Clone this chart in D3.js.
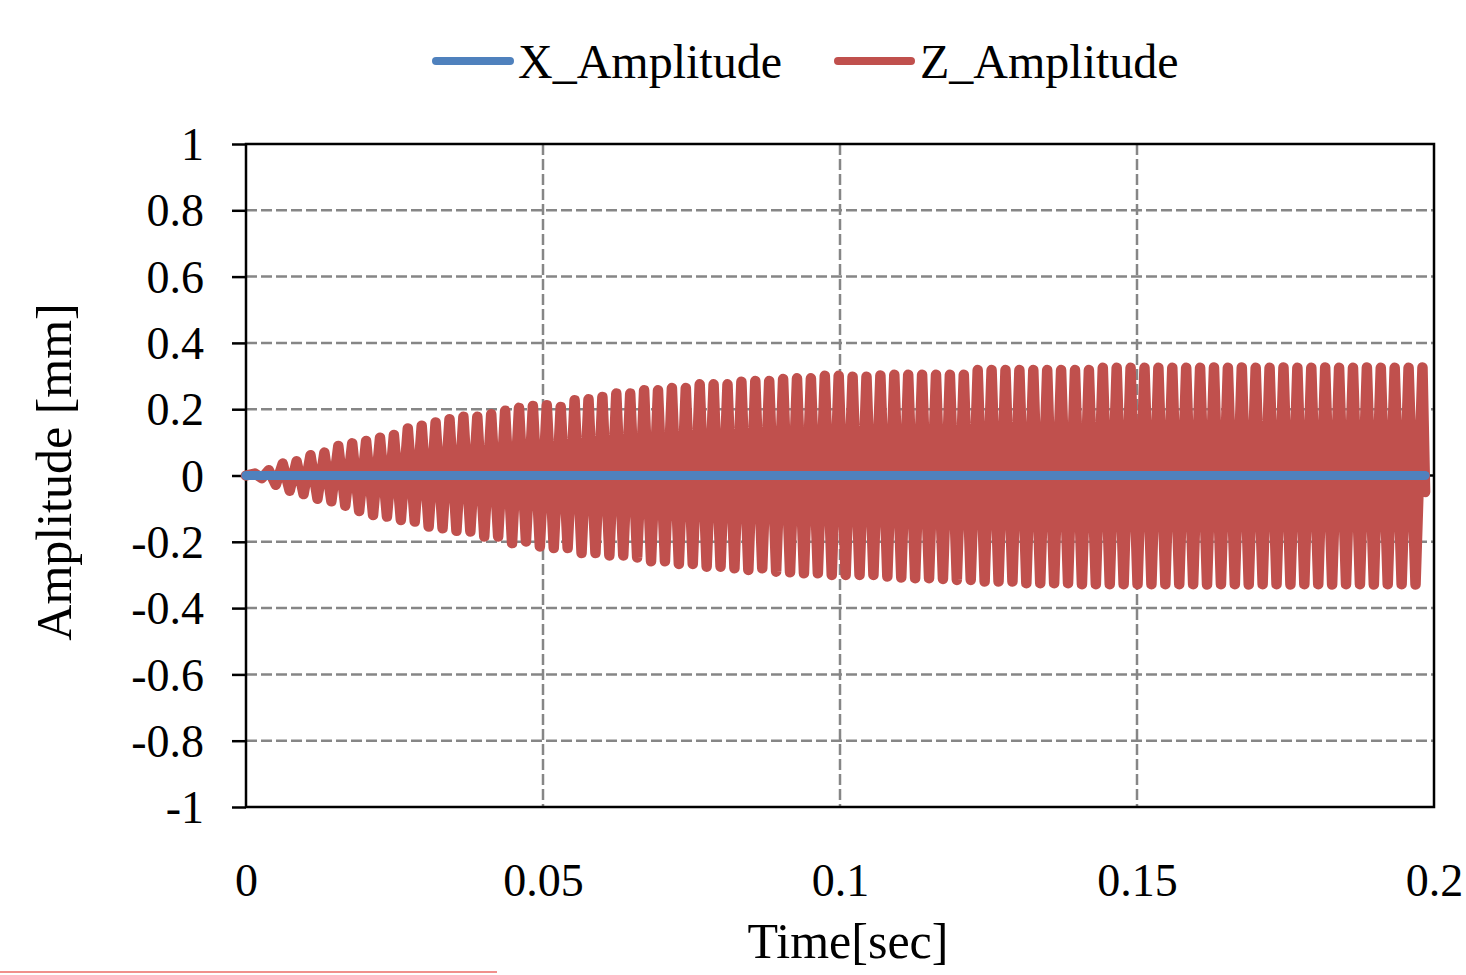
<!DOCTYPE html>
<html>
<head>
<meta charset="utf-8">
<script src="https://cdn.jsdelivr.net/npm/d3@7"></script>
<style>
  body { margin: 0; background: #fff; }
  svg { display: block; font-family: "Liberation Serif", "Times New Roman", serif; }
</style>
</head>
<body>
<svg id="chart" width="1466" height="975"></svg>
<script>
/*******************************************************************************************/
// Data

var seriesNames = ['X_Amplitude', 'Z_Amplitude'];
var seriesColors = ['#4F81BD', '#C0504D'];

var xTicks = [0, 0.05, 0.1, 0.15, 0.2];
var yTicks = [-1, -0.8, -0.6, -0.4, -0.2, 0, 0.2, 0.4, 0.6, 0.8, 1];

// X amplitude stays at zero over the whole run
var xTime  = [0, 0.05, 0.1, 0.15, 0.1985];
var xValue = [0, 0, 0, 0, 0];

// Z amplitude: time and value of every crest and every trough
var zPeakTime = [0.0015, 0.00384, 0.00618, 0.00852, 0.01086, 0.0132, 0.01554, 0.01788, 0.02022, 0.02256,
  0.0249, 0.02724, 0.02958, 0.03192, 0.03426, 0.0366, 0.03894, 0.04128, 0.04362, 0.04596,
  0.0483, 0.05064, 0.05298, 0.05532, 0.05766, 0.06, 0.06234, 0.06468, 0.06702, 0.06936,
  0.0717, 0.07404, 0.07638, 0.07872, 0.08106, 0.0834, 0.08574, 0.08808, 0.09042, 0.09276,
  0.0951, 0.09744, 0.09978, 0.10212, 0.10446, 0.1068, 0.10914, 0.11148, 0.11382, 0.11616,
  0.1185, 0.12084, 0.12318, 0.12552, 0.12786, 0.1302, 0.13254, 0.13488, 0.13722, 0.13956,
  0.1419, 0.14424, 0.14658, 0.14892, 0.15126, 0.1536, 0.15594, 0.15828, 0.16062, 0.16296,
  0.1653, 0.16764, 0.16998, 0.17232, 0.17466, 0.177, 0.17934, 0.18168, 0.18402, 0.18636,
  0.1887, 0.19104, 0.19338, 0.19572, 0.19806];
var zPeak = [0.006, 0.016, 0.036, 0.043, 0.061, 0.069, 0.089, 0.097, 0.104, 0.114,
  0.122, 0.142, 0.150, 0.160, 0.170, 0.177, 0.177, 0.185, 0.195, 0.204,
  0.210, 0.212, 0.207, 0.227, 0.230, 0.237, 0.247, 0.247, 0.257, 0.257,
  0.264, 0.264, 0.275, 0.275, 0.275, 0.283, 0.285, 0.285, 0.291, 0.293,
  0.293, 0.301, 0.301, 0.298, 0.298, 0.302, 0.304, 0.304, 0.304, 0.304,
  0.304, 0.304, 0.318, 0.318, 0.318, 0.318, 0.318, 0.318, 0.318, 0.318,
  0.318, 0.325, 0.325, 0.325, 0.325, 0.325, 0.325, 0.325, 0.325, 0.326,
  0.325, 0.326, 0.325, 0.325, 0.326, 0.325, 0.325, 0.326, 0.325, 0.325,
  0.326, 0.325, 0.325, 0.325, 0.326];
var zTroughTime = [0.00267, 0.00501, 0.00735, 0.00969, 0.01203, 0.01437, 0.01671, 0.01905, 0.02139, 0.02373,
  0.02607, 0.02841, 0.03075, 0.03309, 0.03543, 0.03777, 0.04011, 0.04245, 0.04479, 0.04713,
  0.04947, 0.05181, 0.05415, 0.05649, 0.05883, 0.06117, 0.06351, 0.06585, 0.06819, 0.07053,
  0.07287, 0.07521, 0.07755, 0.07989, 0.08223, 0.08457, 0.08691, 0.08925, 0.09159, 0.09393,
  0.09627, 0.09861, 0.10095, 0.10329, 0.10563, 0.10797, 0.11031, 0.11265, 0.11499, 0.11733,
  0.11967, 0.12201, 0.12435, 0.12669, 0.12903, 0.13137, 0.13371, 0.13605, 0.13839, 0.14073,
  0.14307, 0.14541, 0.14775, 0.15009, 0.15243, 0.15477, 0.15711, 0.15945, 0.16179, 0.16413,
  0.16647, 0.16881, 0.17115, 0.17349, 0.17583, 0.17817, 0.18051, 0.18285, 0.18519, 0.18753,
  0.18987, 0.19221, 0.19455, 0.19689, 0.1985];
var zTrough = [-0.008, -0.028, -0.046, -0.056, -0.070, -0.078, -0.091, -0.107, -0.119, -0.124,
  -0.134, -0.139, -0.154, -0.159, -0.167, -0.169, -0.184, -0.184, -0.204, -0.199,
  -0.214, -0.219, -0.219, -0.234, -0.234, -0.241, -0.241, -0.247, -0.259, -0.259,
  -0.267, -0.267, -0.275, -0.275, -0.280, -0.285, -0.280, -0.290, -0.292, -0.295,
  -0.295, -0.300, -0.300, -0.300, -0.300, -0.305, -0.308, -0.310, -0.310, -0.312,
  -0.315, -0.315, -0.320, -0.320, -0.320, -0.325, -0.325, -0.325, -0.325, -0.328,
  -0.328, -0.328, -0.328, -0.328, -0.328, -0.328, -0.328, -0.328, -0.329, -0.328,
  -0.328, -0.329, -0.328, -0.328, -0.329, -0.328, -0.328, -0.329, -0.328, -0.328,
  -0.329, -0.328, -0.328, -0.329, -0.05];

/*******************************************************************************************/
// Layout

var svg = d3.select('#chart');
var plot = { left: 246, right: 1434, top: 144, bottom: 807 };
var serif = '"Liberation Serif", "Times New Roman", serif';

var xScale = d3.scaleLinear().domain([0, 0.2]).range([plot.left, plot.right]);
var yScale = d3.scaleLinear().domain([-1, 1]).range([plot.bottom, plot.top]);
var lineGen = d3.line().x(function(d){ return xScale(d.t) }).y(function(d){ return yScale(d.v) });

var zData = [{ t: 0, v: 0 }];
zPeakTime.forEach(function(t, i){
  zData.push({ t: t, v: zPeak[i] });
  zData.push({ t: zTroughTime[i], v: zTrough[i] });
});
var xData = xTime.map(function(t, i){ return { t: t, v: xValue[i] } });

/*************************************************/
// Grid

var grid = svg.append('g');
grid.selectAll('.hgrid').data(yTicks.filter(function(d){ return d != -1 && d != 1 && d != 0 }))
  .enter().append('line')
  .attr('x1', plot.left).attr('x2', plot.right)
  .attr('y1', function(d){ return yScale(d) }).attr('y2', function(d){ return yScale(d) })
  .style('stroke', '#868686').style('stroke-width', 2.5).style('stroke-dasharray', '11,4');
grid.selectAll('.vgrid').data(xTicks.filter(function(d){ return d != 0 && d != 0.2 }))
  .enter().append('line')
  .attr('x1', function(d){ return xScale(d) }).attr('x2', function(d){ return xScale(d) })
  .attr('y1', plot.top).attr('y2', plot.bottom)
  .style('stroke', '#868686').style('stroke-width', 2.5).style('stroke-dasharray', '11,4');

/*************************************************/
// Frame and axes

svg.append('rect').attr('x', plot.left).attr('y', plot.top)
  .attr('width', plot.right - plot.left).attr('height', plot.bottom - plot.top)
  .style('fill', 'none').style('stroke', '#000').style('stroke-width', 2.5);

var yAxis = svg.append('g').attr('transform', 'translate(' + plot.left + ',0)')
  .call(d3.axisLeft(yScale).tickValues(yTicks).tickSize(14).tickPadding(28)
    .tickFormat(function(d){ return String(d) }));
yAxis.select('.domain').remove();
yAxis.selectAll('line').style('stroke', '#000').style('stroke-width', 2.5);
yAxis.selectAll('text').style('font-size', '46px').style('fill', '#000').attr('dy', '0.34em')
  .style('font-family', serif);

// horizontal axis crossing at zero
svg.append('line').attr('x1', plot.left).attr('x2', plot.right)
  .attr('y1', yScale(0)).attr('y2', yScale(0))
  .style('stroke', '#000').style('stroke-width', 2.5);

var xAxis = svg.append('g').attr('transform', 'translate(0,' + plot.bottom + ')')
  .call(d3.axisBottom(xScale).tickValues(xTicks).tickSize(0).tickPadding(89)
    .tickFormat(function(d){ return String(d) }));
xAxis.select('.domain').remove();
xAxis.selectAll('text').style('font-size', '46px').style('fill', '#000').attr('dy', '0')
  .style('font-family', serif);

/*************************************************/
// Series

svg.append('path').attr('d', lineGen(zData))
  .style('fill', 'none').style('stroke', seriesColors[1]).style('stroke-width', 10.5)
  .style('stroke-linejoin', 'round').style('stroke-linecap', 'round');
svg.append('path').attr('d', lineGen(xData))
  .style('fill', 'none').style('stroke', seriesColors[0]).style('stroke-width', 9)
  .style('stroke-linecap', 'round');

/*************************************************/
// Titles

svg.append('text').attr('x', 848).attr('y', 958).style('text-anchor', 'middle')
  .style('font-size', '50px').text('Time[sec]');
svg.append('g').attr('transform', 'translate(71,472) rotate(-90)')
  .append('text').style('text-anchor', 'middle').style('font-size', '50px').text('Amplitude [mm]');

/*************************************************/
// Legend

var legendPos = [{ x1: 436, x2: 510, tx: 518 }, { x1: 838, x2: 911, tx: 920 }];
seriesNames.forEach(function(name, i){
  var p = legendPos[i];
  svg.append('line').attr('x1', p.x1).attr('x2', p.x2).attr('y1', 61).attr('y2', 61)
    .style('stroke', seriesColors[i]).style('stroke-width', 8).style('stroke-linecap', 'round');
  svg.append('text').attr('x', p.tx).attr('y', 78).style('font-size', '48px').text(name);
});

// thin pink rule along the bottom-left edge
svg.append('line').attr('x1', 0).attr('x2', 497).attr('y1', 972).attr('y2', 972)
  .style('stroke', '#f0908c').style('stroke-width', 2);
</script>
</body>
</html>
